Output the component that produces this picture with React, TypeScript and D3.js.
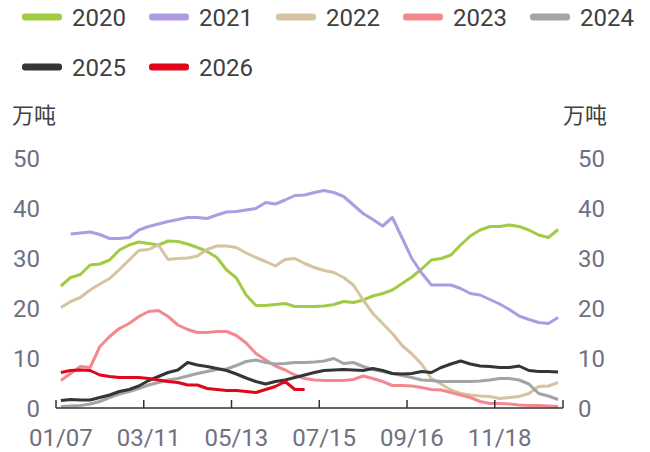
import React, { useEffect, useRef } from "react";
import * as d3 from "d3";

// weekly categories, 52 per year
const weekCount = 52;
const tickLabels = ["01/07", "03/11", "05/13", "07/15", "09/16", "11/18"];
const labelEvery = 9;

const years = ["2020", "2021", "2022", "2023", "2024", "2025", "2026"];
const colors = ["#a2cb45", "#ae9be2", "#d6c3a0", "#f3898e", "#a2a4a7", "#353535", "#e1061a"];

const y2020 = [24.4, 26.1, 26.7, 28.6, 28.8, 29.6, 31.6, 32.6, 33.2, 32.9, 32.6, 33.4, 33.3, 32.8, 32.1, 31.3, 30.1, 27.6, 26, 22.6, 20.5, 20.5, 20.7, 20.9, 20.3, 20.3, 20.3, 20.4, 20.7, 21.3, 21.1, 21.6, 22.4, 22.9, 23.6, 24.9, 26.2, 27.8, 29.6, 29.9, 30.6, 32.6, 34.4, 35.6, 36.3, 36.3, 36.6, 36.3, 35.6, 34.6, 34.1, 35.7];
const y2021 = [null, 34.8, 35, 35.2, 34.7, 33.9, 33.9, 34.1, 35.6, 36.3, 36.8, 37.3, 37.7, 38.1, 38.1, 37.9, 38.6, 39.2, 39.3, 39.6, 39.9, 41.1, 40.8, 41.6, 42.5, 42.6, 43.1, 43.5, 43.1, 42.3, 40.6, 38.9, 37.7, 36.4, 38.1, 34, 29.9, 27, 24.6, 24.6, 24.6, 23.9, 22.9, 22.6, 21.7, 20.8, 19.7, 18.4, 17.7, 17.1, 16.9, 18.1];
const y2022 = [20.1, 21.3, 22.1, 23.6, 24.8, 25.9, 27.7, 29.6, 31.5, 31.7, 32.6, 29.7, 29.9, 30, 30.4, 31.7, 32.4, 32.4, 32.1, 31, 30.1, 29.3, 28.4, 29.7, 29.9, 28.9, 28.1, 27.5, 27.1, 26.1, 24.6, 21.6, 18.9, 16.9, 14.9, 12.5, 10.8, 8.8, 5.9, 4.8, 3.6, 2.9, 2.6, 2.4, 2.3, 1.9, 2.1, 2.3, 2.9, 4.3, 4.4, 5.1];
const y2023 = [5.5, 6.9, 8.3, 8.1, 12.3, 14.3, 15.9, 16.9, 18.3, 19.3, 19.5, 18.3, 16.6, 15.7, 15.1, 15.1, 15.3, 15.3, 14.5, 13, 10.9, 9.6, 8.4, 7.6, 6.6, 5.9, 5.6, 5.5, 5.5, 5.5, 5.7, 6.4, 5.9, 5.3, 4.5, 4.5, 4.4, 4.1, 3.7, 3.6, 3.1, 2.6, 2.1, 1.3, 0.9, 0.9, 0.8, 0.6, 0.5, 0.5, 0.4, 0.3];
const y2024 = [0.3, 0.4, 0.5, 0.8, 1.3, 2.1, 2.8, 3.3, 3.9, 4.6, 5.1, 5.6, 5.9, 6.4, 6.9, 7.3, 7.7, 7.8, 8.5, 9.3, 9.6, 9.1, 8.8, 8.9, 9.1, 9.1, 9.2, 9.4, 9.9, 8.9, 9.1, 8.3, 7.7, 7.3, 6.9, 6.5, 6.1, 5.6, 5.5, 5.3, 5.3, 5.3, 5.3, 5.4, 5.6, 5.9, 5.9, 5.6, 4.8, 2.9, 2.4, 1.7];
const y2025 = [1.5, 1.7, 1.6, 1.6, 2.1, 2.6, 3.3, 3.7, 4.4, 5.5, 6.3, 7.1, 7.6, 9.1, 8.6, 8.3, 7.9, 7.5, 6.8, 6, 5.3, 4.8, 5.3, 5.6, 6.1, 6.6, 7.1, 7.5, 7.6, 7.7, 7.6, 7.5, 7.9, 7.5, 6.9, 6.8, 6.9, 7.3, 7.1, 8.1, 8.8, 9.4, 8.8, 8.4, 8.3, 8.1, 8.1, 8.4, 7.5, 7.3, 7.3, 7.2];
const y2026 = [7.1, 7.5, 7.6, 7.5, 6.6, 6.3, 6.1, 6.1, 6.1, 5.9, 5.6, 5.3, 5.1, 4.6, 4.6, 3.9, 3.7, 3.5, 3.5, 3.3, 3.1, 3.7, 4.3, 5.3, 3.7, 3.7];

const series = [y2020, y2021, y2022, y2023, y2024, y2025, y2026];
const yTicks = [0, 10, 20, 30, 40, 50];

// Roboto for the digits (compact line box), CJK font for 万吨
const FONT = 'Roboto, "Noto Sans CJK SC", sans-serif';
const CJK = '"Noto Sans CJK SC", sans-serif';

const App = () => {
  const svgRef = useRef<SVGSVGElement>(null);

  useEffect(() => {
    const width = 650;
    const height = 452;
    const svg = d3.select(svgRef.current).attr("width", width).attr("height", height);
    svg.selectAll("*").remove();

    const x = d3.scaleBand<number>().domain(d3.range(weekCount)).range([56, 563]);
    const y = d3.scaleLinear().domain([0, 50]).range([408, 158]);
    const cx = (i: number) => (x(i) as number) + x.bandwidth() / 2;

    // legend, 5 per row
    const legend = svg.append("g");
    years.forEach((yr, k) => {
      const lx = 22 + (k % 5) * 127;
      const ly = 17 + Math.floor(k / 5) * 50;
      legend
        .append("rect")
        .attr("x", lx)
        .attr("y", ly - 3.5)
        .attr("width", 40)
        .attr("height", 7)
        .attr("rx", 3)
        .attr("fill", colors[k]);
      legend
        .append("text")
        .attr("x", lx + 50)
        .attr("y", ly)
        .attr("dy", "0.36em")
        .style("font-family", FONT)
        .style("font-size", "24px")
        .style("fill", "#404040")
        .text(yr);
    });

    // unit labels
    svg
      .append("text")
      .attr("x", 12)
      .attr("y", 115)
      .attr("dy", "0.36em")
      .style("font-family", CJK)
      .style("font-size", "22px")
      .style("fill", "#404040")
      .text("万吨");
    svg
      .append("text")
      .attr("x", 607)
      .attr("y", 115)
      .attr("dy", "0.36em")
      .attr("text-anchor", "end")
      .style("font-family", CJK)
      .style("font-size", "22px")
      .style("fill", "#404040")
      .text("万吨");

    // y tick labels both sides
    const yl = svg.append("g").style("font-family", FONT).style("font-size", "24px").style("fill", "#707082");
    yl.selectAll("text.l")
      .data(yTicks)
      .enter()
      .append("text")
      .attr("x", 40)
      .attr("y", (d) => y(d))
      .attr("dy", "0.36em")
      .attr("text-anchor", "end")
      .text((d) => d);
    yl.selectAll("text.r")
      .data(yTicks)
      .enter()
      .append("text")
      .attr("x", 578)
      .attr("y", (d) => y(d))
      .attr("dy", "0.36em")
      .text((d) => d);

    // lines
    const line = d3
      .line<number | null>()
      .defined((d) => d != null)
      .x((d, i) => cx(i))
      .y((d) => y(d as number));

    svg
      .append("g")
      .selectAll("path")
      .data(series)
      .enter()
      .append("path")
      .attr("d", (d) => line(d))
      .attr("fill", "none")
      .attr("stroke", (d, k) => colors[k])
      .attr("stroke-width", 3)
      .attr("stroke-linejoin", "round");

    // x axis: baseline + inward ticks at group boundaries
    const axis = svg.append("g").attr("stroke", "#333").attr("stroke-width", 1.5);
    axis.append("line").attr("x1", 56).attr("x2", 563).attr("y1", 408).attr("y2", 408);
    const tickX = tickLabels.map((_, j) => x(j * labelEvery) as number).concat([563]);
    axis
      .selectAll("line.t")
      .data(tickX)
      .enter()
      .append("line")
      .attr("x1", (d) => d)
      .attr("x2", (d) => d)
      .attr("y1", 400)
      .attr("y2", 408);

    svg
      .append("g")
      .selectAll("text")
      .data(tickLabels)
      .enter()
      .append("text")
      .attr("x", (d, j) => cx(j * labelEvery))
      .attr("y", 437)
      .attr("dy", "0.36em")
      .attr("text-anchor", "middle")
      .style("font-family", FONT)
      .style("font-size", "24px")
      .style("fill", "#707082")
      .text((d) => d);
  }, []);

  return <svg ref={svgRef} style={{ position: "absolute", left: 0, top: 0 }} />;
};

export default App;
